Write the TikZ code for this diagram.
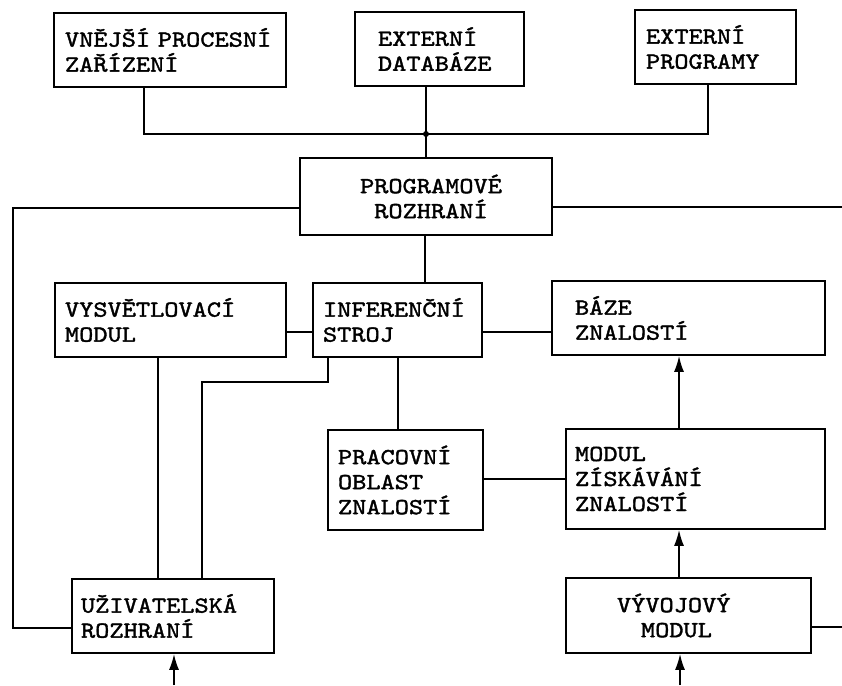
\documentclass[tikz,border=0pt]{standalone}
\usepackage{fontspec}
\newfontfamily\boxfont{lmmono10-regular.otf}[FakeStretch=1.175, FakeBold=1.6]
\usetikzlibrary{arrows.meta}

% left indent of the text lines inside a box
\newcommand\padamt{0pt}
\newcommand\lpad{\hspace*{\padamt}}

\tikzset{
  blk/.style={draw, line width=1.7pt, inner xsep=0pt, inner ysep=0pt,
    font={\boxfont\fontsize{23pt}{25pt}\selectfont}, align=left},
  pad/.code={\renewcommand\padamt{#1}},
  wire/.style={line width=1.7pt, line join=miter},
  feed/.style={wire, -{Latex[length=16pt,width=10pt]}},
}

\begin{document}
\begin{tikzpicture}[x=1pt,y=-1pt]
  \useasboundingbox (0,0) rectangle (842,685);

  % top row: external components
  \node[blk, pad=11pt, text width=232pt, minimum height=74pt] (ext) at (170,50)
    {\lpad VNĚJŠÍ PROCESNÍ\\\lpad ZAŘÍZENÍ};
  \node[blk, pad=23pt, text width=169pt, minimum height=74pt] (db) at (439.5,49)
    {\lpad EXTERNÍ\\\lpad DATABÁZE};
  \node[blk, pad=11pt, text width=161pt, minimum height=74pt] (prg) at (715.5,47)
    {\lpad EXTERNÍ\\\lpad PROGRAMY};

  % program interface
  \node[blk, align=center, text width=252pt, minimum height=77pt] (api) at (426,196.5)
    {\hspace*{10pt}PROGRAMOVÉ\\\hspace*{10pt}ROZHRANÍ};

  % middle row
  \node[blk, pad=10pt, text width=231pt, minimum height=74pt] (expl) at (170.5,320)
    {\lpad VYSVĚTLOVACÍ\\\lpad MODUL};
  \node[blk, pad=10pt, text width=169pt, minimum height=74pt] (inf) at (397.5,320)
    {\lpad INFERENČNÍ\\\lpad STROJ};
  \node[blk, pad=23pt, text width=273pt, minimum height=74pt] (kb) at (688.5,318)
    {\lpad BÁZE\\\lpad ZNALOSTÍ};

  % working memory and knowledge acquisition
  \node[blk, pad=10pt, text width=155pt, minimum height=100pt] (work) at (405.5,480)
    {\lpad PRACOVNÍ\\\lpad OBLAST\\\lpad ZNALOSTÍ};
  \node[blk, pad=9pt, text width=259pt, minimum height=100pt] (acq) at (695.5,479)
    {\lpad MODUL\\\lpad ZÍSKÁVÁNÍ\\\lpad ZNALOSTÍ};

  % bottom row
  \node[blk, pad=9pt, text width=202pt, minimum height=74pt] (ui) at (173,616)
    {\lpad UŽIVATELSKÁ\\\lpad ROZHRANÍ};
  \node[blk, pad=51pt, text width=245pt, minimum height=75pt] (dev) at (688.5,615.5)
    {\lpad VÝVOJOVÝ\\\lpad\hspace*{24pt}MODUL};

  % routing points
  \coordinate (busA) at (144,134);
  \coordinate (busB) at (426,134);
  \coordinate (busC) at (708,134);
  \coordinate (lftT) at (13,208);
  \coordinate (lftB) at (13,628);
  \coordinate (rgtT) at (842,207);
  \coordinate (rgtB) at (842,627);
  \coordinate (apiX) at (425,0);
  \coordinate (row2) at (0,332);
  \coordinate (explX) at (158,0);
  \coordinate (infA) at (328,382);
  \coordinate (infB) at (202,382);
  \coordinate (infX) at (398,0);
  \coordinate (row3) at (0,479);
  \coordinate (acqX) at (679,0);
  \coordinate (inUI) at (174,685);
  \coordinate (inDev) at (680,685);

  % bus to external components
  \draw[wire] (ext.south -| busA) -- (busA) -- (busC) -- (prg.south -| busC);
  \draw[wire] (db.south -| busB) -- (api.north -| busB);
  \fill (busB) circle (3pt);

  % program interface links
  \draw[wire] (api.west |- lftT) -- (lftT) -- (lftB) -- (ui.west |- lftB);
  \draw[wire] (api.east |- rgtT) -- (rgtT);
  \draw[wire] (api.south -| apiX) -- (inf.north -| apiX);

  % middle row links
  \draw[wire] (expl.east |- row2) -- (inf.west |- row2);
  \draw[wire] (inf.east |- row2) -- (kb.west |- row2);
  \draw[wire] (expl.south -| explX) -- (ui.north -| explX);
  \draw[wire] (inf.south -| infA) -- (infA) -- (infB) -- (ui.north -| infB);
  \draw[wire] (inf.south -| infX) -- (work.north -| infX);
  \draw[wire] (work.east |- row3) -- (acq.west |- row3);

  % knowledge acquisition chain
  \draw[feed] (acq.north -| acqX) -- (kb.south -| acqX);
  \draw[feed] (dev.north -| acqX) -- (acq.south -| acqX);
  \draw[wire] (dev.east |- rgtB) -- (rgtB);

  % inputs from below
  \draw[feed] (inUI) -- (ui.south -| inUI);
  \draw[feed] (inDev) -- (dev.south -| inDev);
\end{tikzpicture}
\end{document}
